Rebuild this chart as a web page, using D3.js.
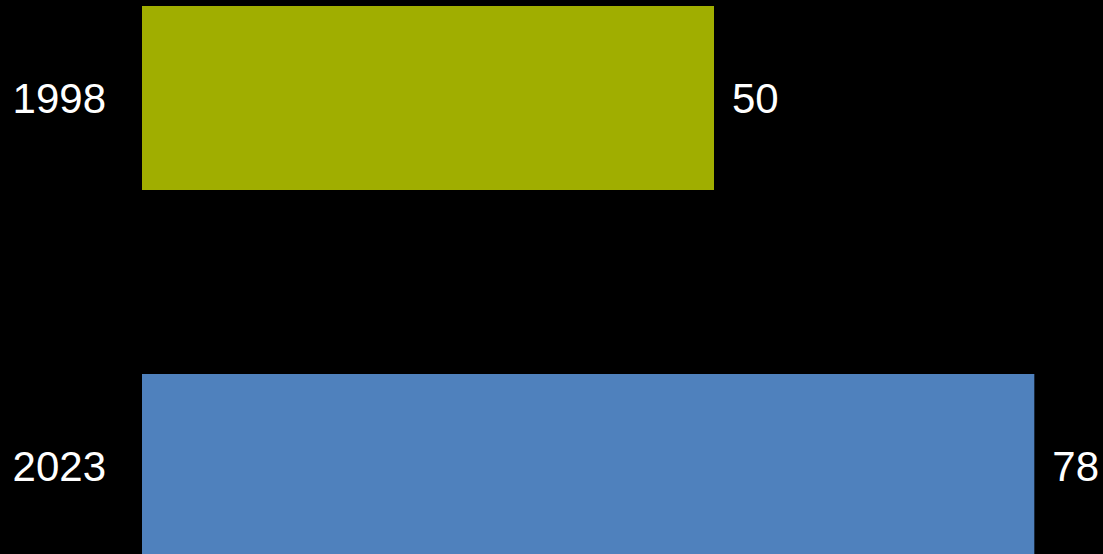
<!DOCTYPE html>
<html>
<head>
<meta charset="utf-8">
<script src="https://cdn.jsdelivr.net/npm/d3@7"></script>
<style>
  html, body { margin: 0; padding: 0; background: #000; }
  svg { display: block; }
</style>
</head>
<body>
<svg id="chart" width="1103" height="554"></svg>
<script>
const categories = ["1998", "2023"];
const values = [50, 78];
const colors = ["#A0AE00", "#4F81BD"];

const svg = d3.select("#chart");
const W = 1103, H = 554;
svg.append("rect").attr("width", W).attr("height", H).attr("fill", "#000");

const y = d3.scaleBand().domain(categories).range([6, 558]).paddingInner(0.5).paddingOuter(0);
const x = d3.scaleLinear().domain([0, 100]).range([142, 1286]);

const data = categories.map((c, i) => ({ c, v: values[i], col: colors[i] }));

svg.selectAll("rect.bar").data(data).enter().append("rect")
  .attr("class", "bar")
  .attr("x", x(0))
  .attr("y", d => y(d.c))
  .attr("width", d => x(d.v) - x(0))
  .attr("height", y.bandwidth())
  .attr("fill", d => d.col);

const font = "'Liberation Sans', Arial, sans-serif";

svg.selectAll("text.cat").data(data).enter().append("text")
  .attr("class", "cat")
  .attr("x", 106)
  .attr("y", d => y(d.c) + y.bandwidth() / 2)
  .attr("dy", "0.35em")
  .attr("text-anchor", "end")
  .attr("fill", "#fff")
  .style("font-family", font)
  .style("font-size", "42px")
  .text(d => d.c);

svg.selectAll("text.val").data(data).enter().append("text")
  .attr("class", "val")
  .attr("x", d => x(d.v) + 18)
  .attr("y", d => y(d.c) + y.bandwidth() / 2)
  .attr("dy", "0.35em")
  .attr("fill", "#fff")
  .style("font-family", font)
  .style("font-size", "42px")
  .text(d => d.v);
</script>
</body>
</html>
